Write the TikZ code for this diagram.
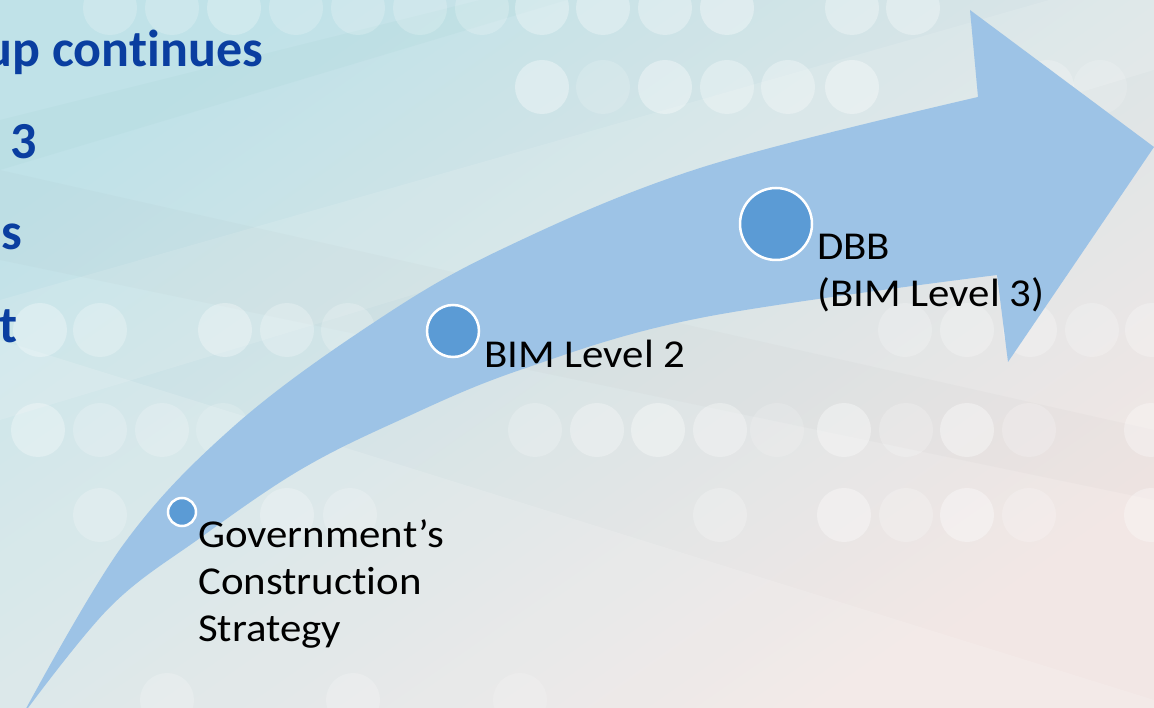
\documentclass[tikz,border=0pt]{standalone}
\usepackage{fontspec}
\setmainfont{Carlito}[Ligatures={TeX,NoCommon}]
\newfontfamily\labelfont{Carlito}[FakeStretch=1.085,Ligatures={TeX,NoCommon}]
\usetikzlibrary{positioning}

\definecolor{bgteal}{RGB}{192,226,232}
\definecolor{bgmid}{RGB}{214,223,226}
\definecolor{bgrose}{RGB}{242,231,229}
\definecolor{arrowblue}{HTML}{9DC3E6}
\definecolor{dotblue}{HTML}{5B9BD5}
\definecolor{headblue}{RGB}{10,62,160}

\tikzstyle{milestone}=[circle,draw=white,line width=2.5pt,fill=dotblue,inner sep=0pt]
\tikzstyle{mtext}=[anchor=north west,inner sep=0pt,align=left,font=\labelfont\fontsize{39.5}{47}\selectfont]
\tikzstyle{bgtext}=[anchor=base east,inner sep=0pt,text=headblue,font=\fontsize{52}{62}\selectfont\bfseries]

\begin{document}
\begin{tikzpicture}[x=1pt,y=-1pt]
	\useasboundingbox (0,0) rectangle (1154,708);
	\clip (0,0) rectangle (1154,708);
	% backdrop
	\shade[top color=bgteal, middle color=bgmid, bottom color=bgrose, shading angle=35] (0,0) rectangle (1154,708);
	\fill[teal!40,opacity=.12] (0,120) -- (520,-10) -- (600,-10) -- (0,170) -- cycle;
	\fill[white,opacity=.12] (0,300) -- (1154,-30) -- (1154,70) -- (0,420) -- cycle;
	\fill[gray,opacity=.03] (0,170) -- (1154,430) -- (1154,500) -- (0,260) -- cycle;
	\fill[white,opacity=.15] (0,340) -- (1154,700) -- (1154,708) -- (0,708) -- cycle;
	\foreach \x/\y/\o in {110/8/.2, 172/8/.2, 234/8/.25, 296/8/.2, 358/8/.2, 420/8/.2, 482/8/.2, 542/8/.3, 603/8/.3, 665/8/.3, 727/8/.35, 852/8/.3, 913/8/.3,
		542/87/.35, 603/87/.15, 665/87/.35, 727/87/.3, 788/87/.3, 852/87/.35, 1047/87/.2, 1100/87/.15,
		40/330/.3, 100/330/.25, 225/330/.3, 287/330/.25, 348/330/.2, 905/330/.2, 967/330/.25, 1030/330/.25, 1092/330/.2, 1152/330/.25,
		38/430/.3, 100/430/.2, 162/430/.2, 223/430/.15, 535/430/.2, 597/430/.3, 658/430/.35, 720/430/.3, 777/430/.15, 844/430/.35, 906/430/.2, 967/430/.35, 1029/430/.2, 1151/430/.3,
		100/515/.2, 287/515/.25, 350/515/.2, 720/515/.2, 844/515/.35, 906/515/.2, 967/515/.35, 1029/515/.2, 1151/515/.3,
		167/700/.2, 353/700/.2, 520/700/.15}
		\fill[white,opacity=\o] (\x,\y) circle (27pt);
	% curved arrow
	\fill[arrowblue] plot[smooth,tension=.6] coordinates {(22,716) (123,545) (233,427) (370,325) (500,250) (700,168) (978,97)}
		-- (970,10) -- (1154,147) -- (1008,362) -- (997,275)
		-- plot[smooth,tension=.6] coordinates {(997,275) (700,318) (520,370) (400,420) (300,470) (200,538) (110,607) (22,716)} -- cycle;
	% milestones
	\node[milestone,minimum size=28pt] (dot1) at (182,512) {};
	\node[milestone,minimum size=52pt] (dot2) at (453,331) {};
	\node[milestone,minimum size=72pt] (dot3) at (776,224) {};
	\node[mtext] (gov) at (198,514) {\strut Government’s\\Construction\\Strategy};
	\node[mtext] (lvltwo) at (484,334) {\strut BIM Level 2};
	\node[mtext] (dbb) at (817,226) {\strut DBB\\(BIM Level 3)};
	% slide text behind
	\node[bgtext] (line1) at (263,67) {up continues};
	\node[bgtext] (line2) at (37,159) {3};
	\node[bgtext] (line3) at (22,250) {s};
	\node[bgtext] (line4) at (18,343) {t};
\end{tikzpicture}
\end{document}
